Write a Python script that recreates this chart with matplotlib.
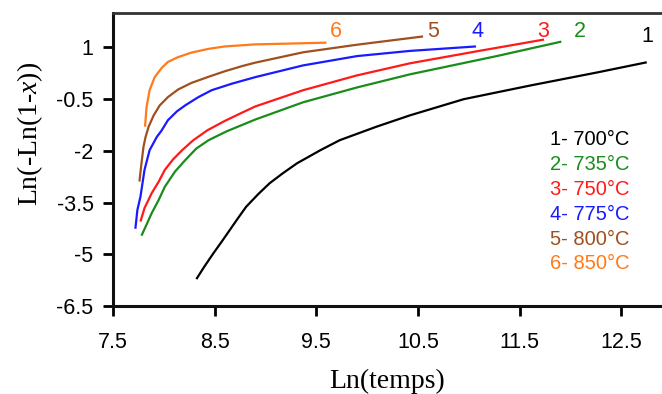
import matplotlib
matplotlib.use("Agg")
import matplotlib.pyplot as plt

plt.rcParams['font.family'] = ['Liberation Sans', 'DejaVu Sans']
plt.rcParams['mathtext.fontset'] = 'custom'
plt.rcParams['mathtext.rm'] = 'Liberation Serif'
plt.rcParams['mathtext.it'] = 'Liberation Serif:italic'

# Data
x1 = [8.32, 8.40, 8.49, 8.57, 8.65, 8.73, 8.81, 8.93, 9.04, 9.17, 9.31, 9.54, 9.73,
      10.09, 10.42, 10.95, 11.61, 12.27, 12.75]
y1 = [-5.72, -5.35, -4.96, -4.63, -4.29, -3.95, -3.62, -3.25, -2.94, -2.65, -2.36, -1.98, -1.69,
      -1.30, -0.97, -0.50, -0.10, 0.28, 0.57]

x2 = [7.78, 7.83, 7.88, 7.95, 8.01, 8.11, 8.21, 8.32, 8.44, 8.62, 8.90, 9.37, 9.90, 10.42, 11.29, 11.91]
y2 = [-4.46, -4.14, -3.81, -3.42, -3.04, -2.60, -2.27, -1.93, -1.69, -1.43, -1.09, -0.59, -0.16, 0.22, 0.76, 1.17]

x3 = [7.77, 7.81, 7.88, 7.95, 8.01, 8.09, 8.18, 8.29, 8.43, 8.60, 8.77, 8.90, 9.37, 9.90, 10.42, 11.10, 11.74]
y3 = [-4.05, -3.66, -3.23, -2.89, -2.55, -2.25, -1.98, -1.69, -1.40, -1.13, -0.89, -0.71, -0.24, 0.19, 0.54, 0.90, 1.23]

x4 = [7.72, 7.74, 7.77, 7.79, 7.81, 7.86, 7.93, 7.98, 8.04, 8.13, 8.21, 8.34, 8.47, 8.67, 8.90,
      9.37, 9.90, 10.42, 11.07]
y4 = [-4.26, -3.71, -3.33, -2.94, -2.55, -1.98, -1.60, -1.40, -1.11, -0.85, -0.68, -0.44, -0.24, -0.05, 0.14,
      0.48, 0.75, 0.90, 1.03]

x5 = [7.76, 7.78, 7.80, 7.82, 7.85, 7.90, 7.96, 8.04, 8.14, 8.27, 8.44, 8.60, 8.77, 8.90, 9.37, 9.90, 10.55]
y5 = [-2.89, -2.36, -1.88, -1.60, -1.30, -0.97, -0.68, -0.44, -0.22, -0.03, 0.15, 0.31, 0.46, 0.56, 0.86, 1.08, 1.32]

x6 = [7.815, 7.83, 7.86, 7.91, 7.98, 8.04, 8.14, 8.27, 8.44, 8.60, 8.90, 9.20, 9.60]
y6 = [-1.30, -0.73, -0.24, 0.14, 0.41, 0.58, 0.72, 0.85, 0.96, 1.03, 1.09, 1.11, 1.14]

curve_ids = ['1', '2', '3', '4', '5', '6']
temps = ['700', '735', '750', '775', '800', '850']
label_x = [12.76, 12.09, 11.73, 11.09, 10.65, 9.69]
label_y = [1.32, 1.45, 1.45, 1.45, 1.45, 1.45]

xticks = [7.5, 8.5, 9.5, 10.5, 11.5, 12.5]
yticks = [1, -0.5, -2, -3.5, -5, -6.5]
xtick_labels = ['7.5', '8.5', '9.5', '10.5', '11.5', '12.5']
ytick_labels = ['1', '-0.5', '-2', '-3.5', '-5', '-6.5']

colors = ['#000000', '#1a8c1a', '#ff1a1a', '#1a1aff', '#a0501e', '#ff7a1a']

fig = plt.figure(figsize=(6.62, 3.94), dpi=100)
ax = fig.add_axes([113/662, 1 - 306/394, 1 - 113/662, (306 - 13)/394])

series = [(x1, y1), (x2, y2), (x3, y3), (x4, y4), (x5, y5), (x6, y6)]
for (xs, ys), c in zip(series, colors):
    ax.plot(xs, ys, color=c, lw=1.6, solid_capstyle='butt', solid_joinstyle='round')

for cid, lx, ly, c in zip(curve_ids, label_x, label_y, colors):
    ax.text(lx, ly, cid, color=c, fontsize=15.5, ha='center', va='center')

for i, (cid, t, c) in enumerate(zip(curve_ids, temps, colors)):
    ax.text(0.796, 0.567 - i * 0.0846, f'{cid}- {t}\u00b0C', color=c,
            fontsize=14.5, ha='left', va='center', transform=ax.transAxes)

ax.set_xlim(7.5, 12.9)
ax.set_ylim(-6.5, 2.0)
ax.set_xticks(xticks)
ax.set_xticklabels(xtick_labels)
ax.set_yticks(yticks)
ax.set_yticklabels(ytick_labels)
ax.tick_params(axis='both', direction='out', length=7, width=2, labelsize=15.5, colors='#000000')
ax.tick_params(axis='x', pad=12)
ax.tick_params(axis='y', pad=7)

ax.spines['right'].set_visible(False)
ax.spines['top'].set_color('#333333')
ax.spines['top'].set_linewidth(2)
ax.spines['left'].set_linewidth(2.2)
ax.spines['bottom'].set_linewidth(2.2)
ax.spines['left'].set_color('#111111')
ax.spines['bottom'].set_color('#111111')

fig.text(387/662, 1 - 381/394, 'Ln(temps)', fontsize=20, family='Liberation Serif',
         ha='center', va='center')
fig.text(30/662, 1 - 134/394, r'$\mathrm{Ln(}\text{-}\mathrm{Ln(1}\text{-}x\mathrm{))}$',
         fontsize=20, rotation=90, ha='center', va='center')

fig.savefig('out.png', dpi=100)
